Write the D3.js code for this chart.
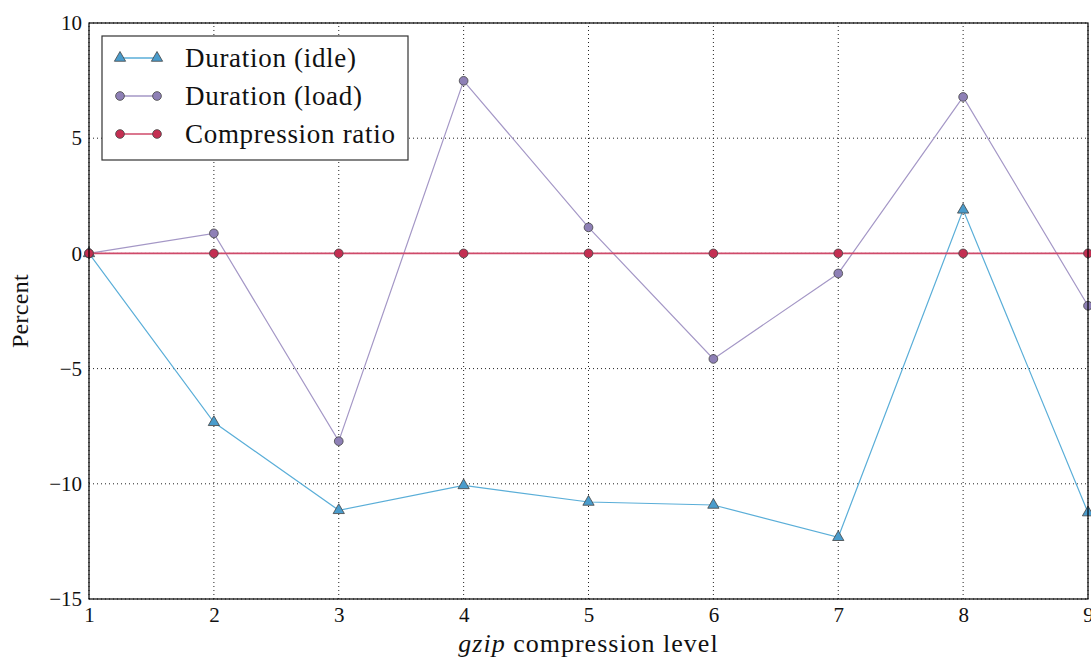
<!DOCTYPE html>
<html>
<head>
<meta charset="utf-8">
<script src="https://cdn.jsdelivr.net/npm/d3@7"></script>
<style>
  body { margin: 0; background: #fff; }
  svg { display: block; }
  text { font-family: "Liberation Serif", "DejaVu Serif", serif; fill: #111; }
</style>
</head>
<body>
<svg id="chart" width="1091" height="659"></svg>
<script>
// gzip compression levels
const levels = [1, 2, 3, 4, 5, 6, 7, 8, 9];
// Relative change (%) versus level 1
const durationIdle = [0, -7.33, -11.15, -10.07, -10.79, -10.92, -12.32, 1.89, -11.25];
const durationLoad = [0, 0.87, -8.15, 7.49, 1.13, -4.58, -0.87, 6.79, -2.27];
const compressionRatio = [0, 0, 0, 0, 0, 0, 0, 0, 0];
const yTicks = [-15, -10, -5, 0, 5, 10];
const seriesNames = ["Duration (idle)", "Duration (load)", "Compression ratio"];

const FONT = "'Liberation Serif', 'DejaVu Serif', serif";
const svg = d3.select("#chart");
const margin = { left: 89, right: 3, top: 23, bottom: 60 };
const W = 1091, H = 659;
const x = d3.scaleLinear().domain([1, 9]).range([margin.left, W - margin.right]);
const y = d3.scaleLinear().domain([-15, 10]).range([H - margin.bottom, margin.top]);

const series = [
  { name: seriesNames[0], values: durationIdle, line: "#5aaed8", fill: "#4a9ccc", marker: "triangle" },
  { name: seriesNames[1], values: durationLoad, line: "#a497c6", fill: "#8e80b6", marker: "circle" },
  { name: seriesNames[2], values: compressionRatio, line: "#cf4a6a", fill: "#c42f52", marker: "circle" }
];

// dotted grid
const grid = svg.append("g").attr("stroke", "#222").attr("stroke-width", 1).attr("stroke-dasharray", "1,3");
levels.forEach(v => {
  grid.append("line").attr("x1", x(v)).attr("x2", x(v)).attr("y1", y(-15)).attr("y2", y(10));
});
yTicks.forEach(v => {
  grid.append("line").attr("x1", x(1)).attr("x2", x(9)).attr("y1", y(v)).attr("y2", y(v));
});

// axes
const xAxis = d3.axisBottom(x).tickValues(levels).tickFormat(d3.format("d")).tickSize(0).tickPadding(8);
const yAxis = d3.axisLeft(y).tickValues(yTicks).tickFormat(d => d < 0 ? "\u2212" + Math.abs(d) : d).tickSize(0).tickPadding(7);
svg.append("g").attr("transform", `translate(0,${y(-15)})`).call(xAxis)
  .call(g => g.select(".domain").remove())
  .selectAll("text").attr("font-size", 21).style("font-family", FONT).attr("fill", "#111");
svg.append("g").attr("transform", `translate(${x(1)},0)`).call(yAxis)
  .call(g => g.select(".domain").remove())
  .selectAll("text").attr("font-size", 21).style("font-family", FONT).attr("fill", "#111");

const symTri = d3.symbol().type(d3.symbolTriangle).size(55);
const symCirc = d3.symbol().type(d3.symbolCircle).size(60);

const lineGen = d3.line().x((d, i) => x(levels[i])).y(d => y(d));
const plot = svg.append("g");
series.forEach(s => {
  plot.append("path").datum(s.values).attr("d", lineGen)
    .attr("fill", "none").attr("stroke", s.line).attr("stroke-width", s.name === seriesNames[2] ? 1.6 : 1.2);
  plot.selectAll(null).data(s.values).enter().append("path")
    .attr("d", s.marker === "triangle" ? symTri : symCirc)
    .attr("transform", (d, i) => `translate(${x(levels[i])},${y(d)})`)
    .attr("fill", s.fill).attr("stroke", "#444").attr("stroke-width", 0.8);
});

// frame
svg.append("rect").attr("x", x(1)).attr("y", y(10)).attr("width", x(9) - x(1)).attr("height", y(-15) - y(10))
  .attr("fill", "none").attr("stroke", "#000").attr("stroke-width", 1.2);

// legend
const lg = svg.append("g");
lg.append("rect").attr("x", 102).attr("y", 36).attr("width", 306).attr("height", 124)
  .attr("fill", "#fff").attr("stroke", "#333").attr("stroke-width", 1.2);
series.forEach((s, i) => {
  const ly = 58 + i * 38;
  lg.append("line").attr("x1", 120).attr("x2", 157).attr("y1", ly).attr("y2", ly)
    .attr("stroke", s.line).attr("stroke-width", 1.5);
  [120, 157].forEach(px => {
    lg.append("path").attr("d", s.marker === "triangle" ? symTri : symCirc)
      .attr("transform", `translate(${px},${ly})`)
      .attr("fill", s.fill).attr("stroke", "#444").attr("stroke-width", 0.8);
  });
  lg.append("text").attr("x", 185).attr("y", ly).attr("dy", "0.35em")
    .attr("font-size", 27).style("font-family", FONT).attr("letter-spacing", 0.7).text(s.name);
});

// axis titles
svg.append("text").attr("transform", `translate(28,${(y(10) + y(-15)) / 2}) rotate(-90)`)
  .attr("text-anchor", "middle").attr("font-size", 24).style("font-family", FONT)
  .attr("letter-spacing", 0.3).text("Percent");
const xt = svg.append("text").attr("x", (x(1) + x(9)) / 2).attr("y", 652)
  .attr("text-anchor", "middle").attr("font-size", 26).style("font-family", FONT).attr("letter-spacing", 1);
xt.append("tspan").attr("font-style", "italic").text("gzip");
xt.append("tspan").text(" compression level");
</script>
</body>
</html>
